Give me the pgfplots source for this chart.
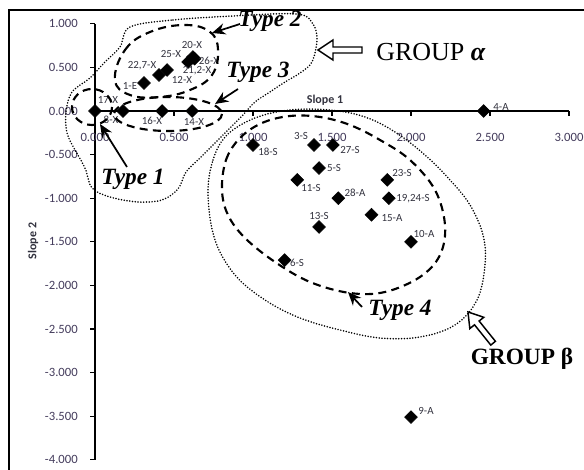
\documentclass[border=0pt]{standalone}
\usepackage{fontspec}
\setmainfont{Carlito}
\newfontfamily\serif{Liberation Serif}
\usepackage{pgfplots}
\pgfplotsset{compat=1.18}
\usetikzlibrary{arrows.meta}
\definecolor{tk}{RGB}{68,60,92}
\definecolor{lb}{RGB}{50,50,62}
\pgfplotstableread{
x y
0 0
0.177 0
0.425 0
0.615 0
0.31 0.321
0.405 0.413
0.456 0.47
0.589 0.562
0.63 0.60
0.62 0.619
2.46 0
1.0 -0.39
1.386 -0.39
1.506 -0.39
1.418 -0.654
1.28 -0.79
1.54 -1.0
1.85 -0.79
1.86 -1.0
1.75 -1.19
1.418 -1.33
2.0 -1.50
1.2 -1.71
2.0 -3.51
}\pts
\begin{document}
\begin{tikzpicture}
\begin{axis}[
  x=118.5pt, y=65.4pt,
  xmin=0, xmax=3, ymin=-4, ymax=1,
  axis lines=middle,
  axis line style={line width=1.3pt, -},
  clip=false,
  xtick={0,0.5,...,3}, ytick={-4,-3.5,...,1},
  hide obscured x ticks=false, hide obscured y ticks=false,
  tick align=outside, major tick length=3.75pt,
  tick style={black, line width=0.8pt},
  /pgf/number format/fixed, /pgf/number format/fixed zerofill,
  /pgf/number format/precision=3, /pgf/number format/assume math mode=true,
  ticklabel style={font=\fontsize{9.5}{11}\selectfont, text=tk},
  xticklabel style={anchor=center, yshift=-15.75pt},
  yticklabel style={anchor=east, inner sep=0pt, xshift=-9pt},
]
\addplot[only marks, mark=square*, mark size=3.4pt, mark options={rotate=45, fill=black, draw=black}] table {\pts};
\coordinate (P0) at (axis cs:-0.60127,1.27294);
\end{axis}
\begin{scope}[shift={(P0)}, x=0.75pt, y=-0.75pt]
  % frame (left and top)
  \draw[line width=1.6pt] (9,470) -- (9,10) -- (584,10);
  % axis titles
  \node[font=\bfseries\fontsize{9}{10}\selectfont, text=lb] at (325,100) {Slope 1};
  \node[font=\bfseries\fontsize{9}{10}\selectfont, text=lb, rotate=90] at (33,241) {Slope 2};
  % data labels
  \begin{scope}[every node/.style={font=\fontsize{8.2}{9}\selectfont, text=lb, inner sep=0pt}]
    \node at (108,100) {17-X};
    \node at (111,120) {8-X};
    \node at (152,121) {16-X};
    \node at (194,122) {14-X};
    \node at (130,86) {1-E};
    \node at (142,66) {22,7-X};
    \node at (182,80) {12-X};
    \node at (171,54) {25-X};
    \node at (192,45) {20-X};
    \node at (209,61) {26-X};
    \node at (197,71) {21,2-X};
    \node at (501,107) {4-A};
    \node at (268,152) {18-S};
    \node at (301,136) {3-S};
    \node at (350,150) {27-S};
    \node at (334,168) {5-S};
    \node at (311,188) {11-S};
    \node at (355,193) {28-A};
    \node at (402,173) {23-S};
    \node at (413,199) {19,24-S};
    \node at (392,218) {15-A};
    \node at (319,216) {13-S};
    \node at (424,234) {10-A};
    \node at (297,263) {6-S};
    \node at (426,411) {9-A};
  \end{scope}
  % group alpha dotted
  \draw[line width=1.3pt, dash pattern=on 0pt off 2.1pt, line cap=round]
    plot[smooth cycle, tension=0.55] coordinates {
    (130,27) (173,20) (233,16) (297,14) (313,24) (317,40) (312,62) (300,73)
    (285,82) (270,92) (255,102) (243,115) (230,128) (215,143) (200,158)
    (186,172) (178,189) (162,200) (138,202) (110,197) (92,188) (85,168)
    (75,150) (67,133) (66,112) (72,92) (90,78) (105,62) (120,47)};
  % group beta dotted
  \draw[line width=1.3pt, dash pattern=on 0pt off 2.1pt, line cap=round]
    plot[smooth cycle, tension=0.6] coordinates {
    (208,195) (213,160) (227,135) (255,118) (290,110) (330,110) (365,117)
    (395,132) (425,155) (450,180) (470,205) (483,235) (485,265) (477,300)
    (455,325) (420,337) (380,338) (340,330) (300,318) (265,300) (235,275) (215,240)};
  % type ellipses
  \begin{scope}[line width=1.6pt, dash pattern=on 6pt off 4pt]
    \draw (92,107) ellipse [x radius=20, y radius=18];
    \draw (168,114) ellipse [x radius=54, y radius=17];
    \draw plot[smooth cycle, tension=0.7] coordinates {
      (115,80) (125,50) (150,32) (185,25) (210,32) (218,50) (212,75) (190,90) (160,97) (130,95)};
    \draw plot[smooth cycle, tension=0.6] coordinates {
      (222,190) (226,160) (240,138) (262,123) (290,116) (320,117) (350,125)
      (380,140) (410,160) (435,190) (445,225) (440,255) (420,277) (385,292)
      (350,293) (310,282) (275,262) (245,238) (228,215)};
  \end{scope}
  % type arrows
  \begin{scope}[line width=1.3pt, -{Stealth[length=10pt, width=8.5pt]}]
    \draw (127,167) -- (100,124);
    \draw (240,24) -- (212,33);
    \draw (238,89) -- (215,104);
    \draw (362,307) -- (348,292);
  \end{scope}
  % type texts
  \begin{scope}[every node/.style={font=\serif\bfseries\itshape\fontsize{17.5}{19}\selectfont, inner sep=0pt}]
    \node at (133,179) {Type 1};
    \node at (270,21) {Type 2};
    \node at (258,72) {Type 3};
    \node at (400,310) {Type 4};
  \end{scope}
  % group arrows
  \draw[line width=1.1pt, fill=white] (318,50) -- (333,40) -- (333,47) -- (362,47) -- (362,53) -- (333,53) -- (333,60) -- cycle;
  \draw[line width=1.1pt, fill=white] (468,312) -- (483.8,317.3) -- (479.1,321.0) -- (495.4,341.3) -- (490.8,345.1) -- (474.5,324.8) -- (469.8,328.6) -- cycle;
  \node[font=\serif\fontsize{19.5}{21}\selectfont, inner sep=0pt] at (431,52) {GROUP \textbf{\textit{α}}};
  \node[font=\serif\bfseries\fontsize{17.5}{19}\selectfont, inner sep=0pt] at (522,359) {GROUP β};
\end{scope}
\pgfresetboundingbox
\path[use as bounding box] (P0) rectangle ++(438pt,-352.5pt);
\end{tikzpicture}
\end{document}
